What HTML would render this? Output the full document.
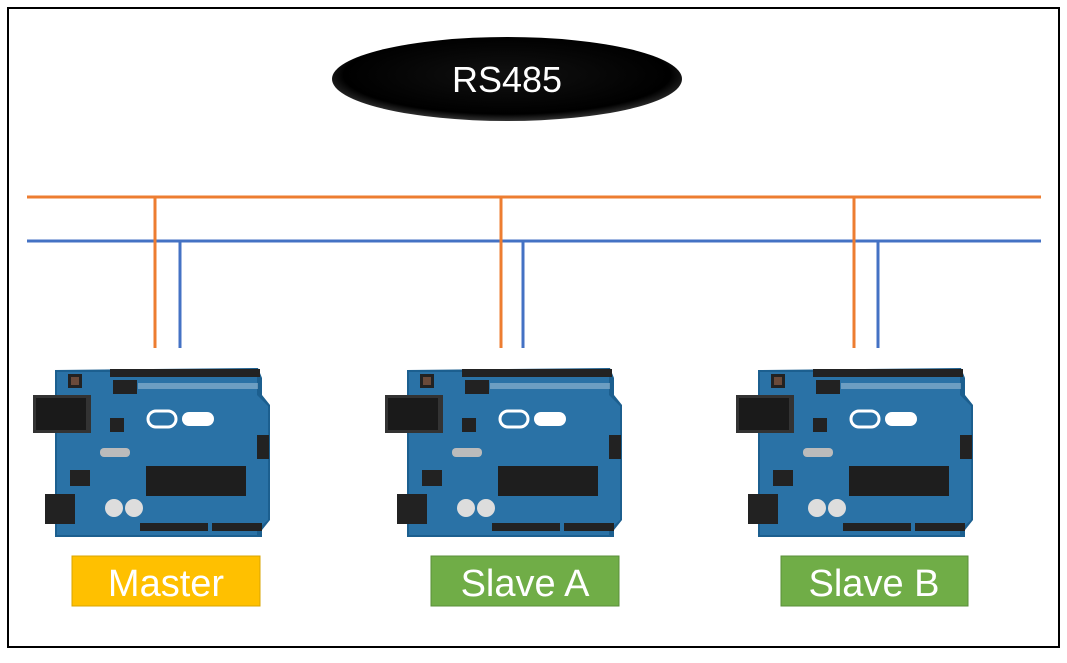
<!DOCTYPE html>
<html><head><style>
body{margin:0;background:#fff;width:1067px;height:658px;overflow:hidden;font-family:"Liberation Sans",sans-serif}
</style></head><body>
<svg width="1067" height="658" viewBox="0 0 1067 658" xmlns="http://www.w3.org/2000/svg">
<defs>
<radialGradient id="eg" cx="50%" cy="45%" r="55%"><stop offset="0" stop-color="#111"/><stop offset="0.85" stop-color="#000"/><stop offset="1" stop-color="#333"/></radialGradient>
<g id="board">
  <path d="M55 370 L258 368 L262 378 L262 395 L270 405 L270 520 L262 530 L262 537 L55 537 Z" fill="#1c5f8f"/>
  <rect x="57" y="372" width="200" height="163" fill="#2a72a6"/>
  <path d="M257 395 L268 406 L268 520 L257 530 Z" fill="#2a72a6"/>
  <rect x="33" y="395" width="58" height="38" fill="#333"/>
  <rect x="36" y="398" width="50" height="32" fill="#1a1a1a"/>
  <rect x="68" y="374" width="14" height="14" fill="#222"/>
  <rect x="71" y="377" width="8" height="8" fill="#6a4a3a"/>
  <rect x="113" y="380" width="24" height="14" fill="#222"/>
  <rect x="110" y="369" width="150" height="8" fill="#222"/>
  <rect x="138" y="383" width="120" height="6" fill="#cfe0ee" opacity="0.4"/>
  <rect x="148" y="411" width="28" height="16" rx="8" fill="none" stroke="#fff" stroke-width="3"/>
  <rect x="182" y="412" width="32" height="14" rx="7" fill="#fff"/>
  <rect x="110" y="418" width="14" height="14" fill="#222"/>
  <rect x="100" y="448" width="30" height="9" rx="4" fill="#bbb"/>
  <rect x="146" y="466" width="100" height="30" fill="#1e1e1e"/>
  <rect x="45" y="494" width="30" height="30" fill="#222"/>
  <rect x="70" y="470" width="20" height="16" fill="#222"/>
  <circle cx="114" cy="508" r="9" fill="#ddd"/>
  <circle cx="134" cy="508" r="9" fill="#ddd"/>
  <rect x="140" y="523" width="68" height="8" fill="#222"/>
  <rect x="212" y="523" width="50" height="8" fill="#222"/>
  <rect x="257" y="435" width="12" height="24" fill="#222"/>
</g>
</defs>
<rect x="8" y="8" width="1051" height="639" fill="#fff" stroke="#000" stroke-width="2"/>
<ellipse cx="507" cy="79" rx="175" ry="42" fill="url(#eg)"/>
<text x="507" y="92" text-anchor="middle" font-size="36" fill="#fff">RS485</text>
<g stroke-width="3" fill="none">
<line x1="27" y1="197" x2="1041" y2="197" stroke="#ed7d31"/>
<line x1="27" y1="241" x2="1041" y2="241" stroke="#4472c4"/>
<line x1="155" y1="197" x2="155" y2="348" stroke="#ed7d31"/>
<line x1="180" y1="241" x2="180" y2="348" stroke="#4472c4"/>
<line x1="501" y1="197" x2="501" y2="348" stroke="#ed7d31"/>
<line x1="523" y1="241" x2="523" y2="348" stroke="#4472c4"/>
<line x1="854" y1="197" x2="854" y2="348" stroke="#ed7d31"/>
<line x1="878" y1="241" x2="878" y2="348" stroke="#4472c4"/>
</g>
<use href="#board"/>
<use href="#board" transform="translate(352,0)"/>
<use href="#board" transform="translate(703,0)"/>
<rect x="72" y="556" width="188" height="50" fill="#ffc000" stroke="#d9a400"/>
<text x="166" y="596" text-anchor="middle" font-size="38" fill="#fff">Master</text>
<rect x="431" y="556" width="188" height="50" fill="#70ad47" stroke="#5a8f38"/>
<text x="525" y="596" text-anchor="middle" font-size="38" fill="#fff">Slave A</text>
<rect x="781" y="556" width="187" height="50" fill="#70ad47" stroke="#5a8f38"/>
<text x="874" y="596" text-anchor="middle" font-size="38" fill="#fff">Slave B</text>
</svg>
</body></html>
